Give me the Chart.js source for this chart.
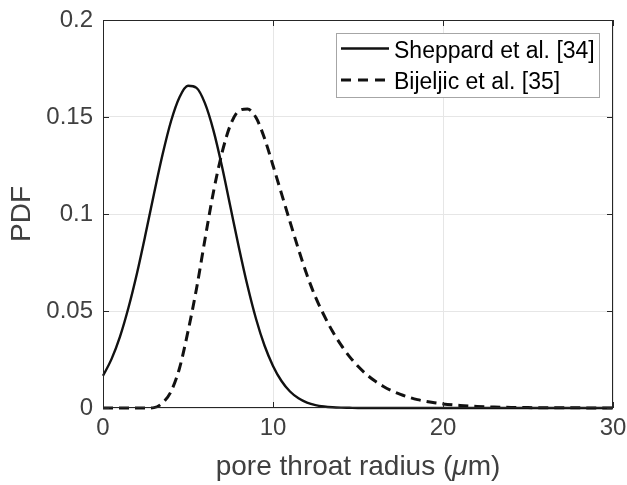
<!DOCTYPE html>
<html>
<head>
<meta charset="utf-8">
<script src="https://cdn.jsdelivr.net/npm/chart.js@4.4.0/dist/chart.umd.min.js"></script>
<style>
  html, body { margin: 0; padding: 0; background: #fff; }
  #wrap { width: 627px; height: 485px; }
</style>
</head>
<body>
<div id="wrap"><canvas id="pdfChart" width="627" height="485"></canvas></div>
<script>
// pore throat radius (um)
const radius = [0, 0.5, 1, 1.5, 2, 2.5, 3, 3.5, 4, 4.5, 5, 5.5, 6, 6.5, 7, 7.5, 8, 8.5, 9, 9.5,
    10, 10.5, 11, 11.5, 12, 12.5, 13, 13.5, 14, 14.5, 15, 15.5, 16, 16.5, 17, 17.5, 18, 18.5, 19, 19.5,
    20, 21, 22, 23, 24, 25, 26, 27, 28, 29, 30];

const sheppard = [0.0166, 0.0252, 0.0368, 0.0518, 0.0695, 0.0895, 0.1105, 0.1305, 0.1478, 0.1602, 0.1661, 0.1650, 0.1570, 0.1430, 0.1245, 0.1035, 0.0825, 0.0630, 0.0460, 0.0322,
    0.0217, 0.0139, 0.0085, 0.0050, 0.0028, 0.0015, 0.0008, 0.0004, 0.0002, 0.0001, 0, 0, 0, 0, 0, 0, 0, 0, 0, 0,
    0, 0, 0, 0, 0, 0, 0, 0, 0, 0, 0];

const bijeljic = [0, 0, 0, 0, 0, 0, 0.0002, 0.0026, 0.0085, 0.0205, 0.0395, 0.0615, 0.0870, 0.1115, 0.1315, 0.1460, 0.1532, 0.1541, 0.1497, 0.1390,
    0.1250, 0.1105, 0.0960, 0.0818, 0.0685, 0.0572, 0.0478, 0.0395, 0.0325, 0.0265, 0.0215, 0.0173, 0.0139, 0.0111, 0.0088, 0.0070, 0.0055, 0.0043, 0.0034, 0.0027,
    0.0021, 0.0013, 0.0008, 0.0005, 0.0003, 0.0002, 0.0001, 0.0001, 0.0001, 0, 0];

const xTicks = [0, 10, 20, 30];
const yTickLabels = ['0', '0.05', '0.1', '0.15', '0.2'];
const seriesNames = ['Sheppard et al. [34]', 'Bijeljic et al. [35]'];

const FONT = '"Liberation Sans", Arial, Helvetica, sans-serif';
const AXIS_COLOR = '#262626';
const TEXT_COLOR = '#404040';

// box, inward ticks, legend and x label (italic mu) like matlab
const matlabAxes = {
    id: 'matlabAxes',
    afterDraw(chart) {
        const ctx = chart.ctx;
        const a = chart.chartArea;
        const xs = chart.scales.x;
        const ys = chart.scales.y;
        const tl = 6;
        ctx.save();
        ctx.strokeStyle = AXIS_COLOR;
        ctx.lineWidth = 1;
        ctx.setLineDash([]);
        ctx.strokeRect(a.left + 0.5, a.top + 0.5, a.right - a.left - 1, a.bottom - a.top - 1);
        ctx.beginPath();
        xTicks.forEach(v => {
            const px = Math.round(xs.getPixelForValue(v)) + 0.5;
            ctx.moveTo(px, a.bottom); ctx.lineTo(px, a.bottom - tl);
            ctx.moveTo(px, a.top); ctx.lineTo(px, a.top + tl);
        });
        yTickLabels.forEach((l, i) => {
            const py = Math.round(ys.getPixelForValue(i * 0.05)) + 0.5;
            ctx.moveTo(a.left, py); ctx.lineTo(a.left + tl, py);
            ctx.moveTo(a.right, py); ctx.lineTo(a.right - tl, py);
        });
        ctx.stroke();

        // legend
        const lx = 336, ly = 33, lw = 263, lh = 64;
        ctx.fillStyle = '#fff';
        ctx.fillRect(lx, ly, lw, lh);
        ctx.strokeStyle = '#a6a6a6';
        ctx.strokeRect(lx + 0.5, ly + 0.5, lw, lh);
        const rows = [58, 89];
        const lineY = [48.5, 80];
        chart.data.datasets.forEach((ds, i) => {
            ctx.strokeStyle = ds.borderColor;
            ctx.lineWidth = ds.borderWidth;
            ctx.setLineDash(i === 1 ? [10, 7] : []);
            ctx.beginPath();
            ctx.moveTo(341, lineY[i]);
            ctx.lineTo(389, lineY[i]);
            ctx.stroke();
            ctx.setLineDash([]);
            ctx.fillStyle = '#000';
            ctx.font = '23px ' + FONT;
            ctx.textAlign = 'left';
            ctx.textBaseline = 'alphabetic';
            ctx.fillText(seriesNames[i], 394, rows[i]);
        });

        // x label
        const parts = [['pore throat radius (', ''], ['\u03bc', 'italic '], ['m)', '']];
        let total = 0;
        parts.forEach(p => {
            ctx.font = p[1] + '28px ' + FONT;
            total += ctx.measureText(p[0]).width;
        });
        let x = (a.left + a.right) / 2 - total / 2;
        ctx.fillStyle = TEXT_COLOR;
        ctx.textAlign = 'left';
        parts.forEach(p => {
            ctx.font = p[1] + '28px ' + FONT;
            ctx.fillText(p[0], x, 475);
            x += ctx.measureText(p[0]).width;
        });
        ctx.restore();
    }
};

const ctx = document.getElementById('pdfChart').getContext('2d');
const pdfChart = new Chart(ctx, {
    type: 'line',
    data: {
        datasets: [{
            label: seriesNames[0],
            data: radius.map((r, i) => ({ x: r, y: sheppard[i] })),
            borderColor: '#111',
            borderWidth: 2.4,
            pointRadius: 0,
            cubicInterpolationMode: 'monotone',
            clip: false
        }, {
            label: seriesNames[1],
            data: radius.map((r, i) => ({ x: r, y: bijeljic[i] })),
            borderColor: '#111',
            borderWidth: 3,
            borderDash: [10, 6],
            pointRadius: 0,
            cubicInterpolationMode: 'monotone',
            clip: false
        }]
    },
    options: {
        responsive: false,
        animation: false,
        layout: { padding: { left: 0, right: 14, top: 20, bottom: 0 } },
        plugins: {
            legend: { display: false },
            tooltip: { enabled: false }
        },
        scales: {
            x: {
                type: 'linear',
                min: 0,
                max: 30,
                afterFit: s => { s.height = 77; s.paddingLeft = 0; s.paddingRight = 0; },
                afterBuildTicks: s => { s.ticks = xTicks.map(v => ({ value: v })); },
                ticks: {
                    padding: 6,
                    maxRotation: 0,
                    color: TEXT_COLOR,
                    font: { family: FONT, size: 24 },
                    callback: v => String(v)
                },
                grid: { color: '#e6e6e6', drawTicks: false },
                border: { display: false }
            },
            y: {
                min: 0,
                max: 0.2,
                afterFit: s => { s.width = 103; s.paddingTop = 0; s.paddingBottom = 0; },
                afterBuildTicks: s => { s.ticks = yTickLabels.map((l, i) => ({ value: i * 0.05 })); },
                ticks: {
                    padding: 10,
                    color: TEXT_COLOR,
                    font: { family: FONT, size: 24 },
                    callback: (v, i) => yTickLabels[i]
                },
                grid: { color: '#e6e6e6', drawTicks: false },
                border: { display: false },
                title: {
                    display: true,
                    text: 'PDF',
                    color: TEXT_COLOR,
                    font: { family: FONT, size: 28 },
                    padding: { top: 5, bottom: 0 }
                }
            }
        }
    },
    plugins: [matlabAxes]
});
</script>
</body>
</html>
